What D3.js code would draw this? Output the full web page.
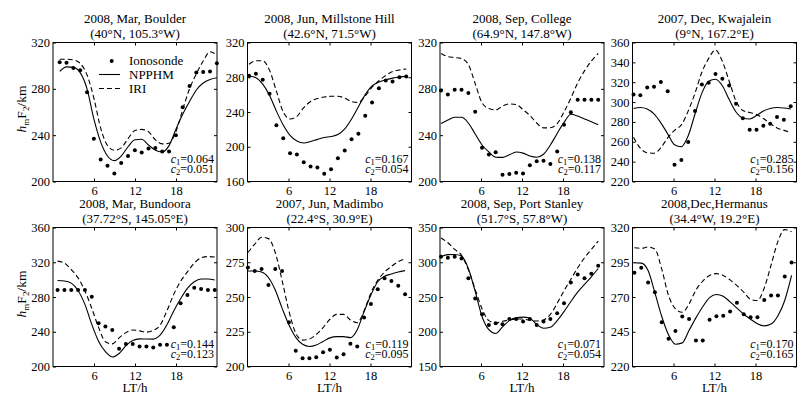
<!DOCTYPE html>
<html>
<head>
<meta charset="utf-8">
<script src="https://cdn.jsdelivr.net/npm/d3@7"></script>
<style>
  body { margin: 0; background: #fff; }
  svg text { font-family: "Liberation Serif", "Times New Roman", serif; fill: #000; }
</style>
</head>
<body>
<script>
var width = 805,
    height = 397;

// station titles
var titles = ["2008, Mar, Boulder", "2008, Jun, Millstone Hill", "2008, Sep, College", "2007, Dec, Kwajalein",
              "2008, Mar, Bundoora", "2007, Jun, Madimbo", "2008, Sep, Port Stanley", "2008,Dec,Hermanus"];
var coords = ["(40°N, 105.3°W)", "(42.6°N, 71.5°W)", "(64.9°N, 147.8°W)", "(9°N, 167.2°E)",
              "(37.72°S, 145.05°E)", "(22.4°S, 30.9°E)", "(51.7°S, 57.8°W)", "(34.4°W, 19.2°E)"];

var yTicks = [
  [200, 240, 280, 320],
  [160, 200, 240, 280, 320],
  [200, 240, 280, 320],
  [220, 240, 260, 280, 300, 320, 340, 360],
  [200, 240, 280, 320, 360],
  [200, 225, 250, 275, 300],
  [150, 200, 250, 300, 350],
  [220, 245, 270, 295, 320]
];
var xTicks = [6, 12, 18];

// LT of the first hourly sample (UT hours shifted by station longitude)
var ltStart = [0.98, 0.23, 0.15, 0.15, 0.67, 0.06, 0.15, 0.28];

var c1 = ["0.064", "0.167", "0.138", "0.285", "0.144", "0.119", "0.071", "0.170"];
var c2 = ["0.051", "0.054", "0.117", "0.156", "0.123", "0.095", "0.054", "0.165"];

// hmF2 (km), 24 hourly values each
var ionoBoulder = [303, 302.5, 298, 296, 277, 237, 219, 213.5, 207, 216, 222, 227, 225, 228.5, 229, 226, 226, 240, 264, 282.5, 294, 294.5, 295, 302];
var npphmBoulder = [295, 299, 298.5, 294, 280, 254, 234, 222, 218, 222, 230, 236, 236.5, 231.5, 227, 225.5, 231, 245, 258, 269, 279, 285, 288, 289.5];
var iriBoulder = [305.5, 305.5, 305, 302, 292, 272, 246, 231, 227, 229, 237, 244, 245, 243, 236, 232.5, 233, 243, 262, 280, 293, 304, 312, 309];

var ionoMillstone = [281.6, 284, 277, 261, 224.8, 209.9, 192.6, 191, 182.2, 177.3, 176, 168.8, 174.2, 186.9, 195.7, 208.7, 214.9, 235.6, 251, 267.4, 276.3, 275, 280, 280.9];
var npphmMillstone = [281.5, 279.5, 272, 259, 241, 225, 213, 206.5, 204.3, 206, 208.5, 210.7, 211.8, 214, 220.5, 232, 246, 260, 270, 274.5, 277, 279, 280.3, 281];
var iriMillstone = [295, 299, 299, 288, 264, 240, 232, 235, 245, 252, 255.5, 257.3, 258.1, 258.2, 256, 252, 251, 258.5, 268.5, 276, 282, 286.5, 288.3, 289.5];

var ionoCollege = [278.6, 275.1, 279.2, 279.2, 276.3, 260.3, 229.1, 223.3, 225.3, 205.8, 206.4, 207.6, 207, 214, 217.5, 218, 215.1, 225.9, 248.9, 259.7, 270.5, 270.5, 270.5, 270.5];
var npphmCollege = [250, 253, 255.5, 255.5, 250.5, 241, 231.5, 225.5, 221, 220.8, 223, 225.5, 224.5, 222, 221, 223.5, 231.5, 241.5, 251, 258, 256.5, 254, 251.5, 249];
var iriCollege = [310.5, 307.8, 307, 306, 301, 284.5, 268, 263, 261.8, 265, 267, 266.5, 262, 257, 250.5, 246.3, 246.4, 250, 260, 272, 285, 295.5, 304, 310.5];

var ionoKwajalein = [307.6, 306.9, 314.7, 315.4, 320.1, 311, 236.9, 241.6, 259.9, 291, 317.7, 319.4, 328.2, 323.5, 316.7, 298.4, 283.6, 272.1, 272.1, 276.1, 278.2, 284.9, 282.2, 295.7];
var npphmKwajalein = [293.5, 294.5, 293, 288, 279, 268, 257, 255, 266, 288, 309, 321, 323, 316.5, 302.5, 290, 284, 283, 286.5, 291, 293.5, 294.5, 294, 293];
var iriKwajalein = [264.5, 253.5, 249, 248.5, 254, 264, 271.5, 277, 291, 309, 330, 344, 352.5, 341, 321, 301, 291.5, 289.5, 287.5, 283.5, 278.5, 274, 271.5, 269.5];

var ionoBundoora = [288, 288, 288, 288, 288, 280.4, 249.8, 245.9, 242.1, 220.3, 226, 226, 223, 223, 221.8, 224.9, 224.9, 245.2, 272.7, 282.3, 290.7, 289.2, 288, 288];
var npphmBundoora = [299, 298.5, 296, 287.5, 271.5, 248.5, 229, 217, 211, 215, 224, 230, 231.8, 231.6, 231.5, 236, 248, 264, 278, 290, 297.5, 300.7, 300.7, 299.5];
var iriBundoora = [321.3, 319, 311.5, 302, 287, 267, 245, 228.5, 226, 233, 239, 242, 241, 239.5, 241.5, 247.5, 264, 283, 298, 309, 319, 325, 326.5, 326];

var ionoMadimbo = [271.3, 268.7, 270.1, 258.6, 270.1, 268.7, 231.8, 211.3, 206, 206, 206.7, 210.3, 212, 206.5, 208.9, 216.3, 214.4, 235.2, 245, 255.5, 263.4, 261.5, 258.1, 251.9];
var npphmMadimbo = [268.7, 268.7, 268, 264, 255, 242, 230, 221, 216, 214.4, 215.5, 218, 220.6, 221.5, 221.5, 220.8, 226.5, 239.5, 251.5, 261, 265, 266.5, 268, 269];
var iriMadimbo = [282, 288, 293, 292, 282, 262, 240, 224, 219, 219.8, 223, 228, 234, 237.5, 237.5, 233.5, 231.5, 240, 253, 262, 268, 272, 275.5, 277.5];

var ionoStanley = [307.9, 306.5, 307.9, 305.5, 276.8, 248, 225.1, 209.8, 212.2, 210.8, 218.4, 218.4, 214.6, 218.4, 209.8, 214.6, 218.4, 226.5, 240.9, 271, 282.5, 276.8, 283.5, 295];
var npphmStanley = [308, 311, 311.2, 309, 291, 258, 222, 203, 197.5, 207, 216, 220, 221, 219.5, 210.5, 205, 206.5, 216, 229, 243.5, 257, 268, 279, 291];
var iriStanley = [335, 328, 318.5, 310, 289, 261, 233, 216, 212.5, 215, 217, 218.3, 218.4, 216.5, 215.5, 217, 225, 241, 259, 275.5, 292, 306.5, 318.5, 330.5];

var ionoHermanus = [287.5, 291.1, 280.5, 273.4, 251.8, 239.9, 245.6, 255.9, 254.2, 238.7, 238.7, 253.7, 256.1, 256.6, 259.5, 265.9, 257.6, 255.4, 255.4, 267.9, 271, 271, 284.8, 294.9];
var npphmHermanus = [294.6, 294.4, 289, 273, 256, 242.7, 236, 237, 246, 255, 263, 269.5, 271.8, 270.5, 266.5, 262, 257.6, 254, 250.8, 249.2, 250.5, 256.5, 267.5, 285.5];
var iriHermanus = [305.4, 305, 306, 304.5, 290, 271, 261.5, 259, 265, 275, 281.5, 285.5, 286.8, 285.5, 282.3, 278.2, 273.5, 268.3, 267.5, 276.5, 293, 310, 318.5, 317];

var iono = [ionoBoulder, ionoMillstone, ionoCollege, ionoKwajalein, ionoBundoora, ionoMadimbo, ionoStanley, ionoHermanus];
var npphm = [npphmBoulder, npphmMillstone, npphmCollege, npphmKwajalein, npphmBundoora, npphmMadimbo, npphmStanley, npphmHermanus];
var iri = [iriBoulder, iriMillstone, iriCollege, iriKwajalein, iriBundoora, iriMadimbo, iriStanley, iriHermanus];

// layout
var panelLeft = [53, 247.5, 440, 632.5],
    panelTop = [42.5, 227.5],
    panelW = 164,
    panelH = 139,
    tick = 3,
    serif = "Liberation Serif, serif";

var svg = d3.select("body").append("svg")
    .attr("width", width)
    .attr("height", height)
    .attr("font-family", serif);

var x = d3.scaleLinear().domain([0, 24]).range([0, panelW]);

titles.forEach(function(title, i) {
  var col = i % 4,
      row = Math.floor(i / 4);

  var y = d3.scaleLinear()
      .domain(d3.extent(yTicks[i]))
      .range([panelH, 0]);

  var g = svg.append("g")
      .attr("transform", "translate(" + panelLeft[col] + "," + panelTop[row] + ")");

  // axes, ticks pointing inward on all four sides
  g.append("g")
      .call(d3.axisLeft(y).tickValues(yTicks[i]).tickSize(-tick).tickPadding(3));
  g.append("g")
      .attr("transform", "translate(" + panelW + ",0)")
      .call(d3.axisRight(y).tickValues(yTicks[i]).tickSize(-tick).tickFormat(""));
  g.append("g")
      .attr("transform", "translate(0," + panelH + ")")
      .call(d3.axisBottom(x).tickValues(xTicks).tickSize(-tick).tickPadding(4.5));
  g.append("g")
      .call(d3.axisTop(x).tickValues(xTicks).tickSize(-tick).tickFormat(""));

  g.selectAll(".domain").remove();
  g.selectAll(".tick line").attr("stroke", "#000");
  g.selectAll("g").attr("font-family", serif).attr("font-size", 12.5);

  g.append("rect")
      .attr("width", panelW)
      .attr("height", panelH)
      .attr("fill", "none")
      .attr("stroke", "#000")
      .attr("stroke-width", 1);

  // title
  g.append("text")
      .attr("x", panelW / 2)
      .attr("y", -19.5)
      .attr("text-anchor", "middle")
      .attr("font-size", 13)
      .text(title);
  g.append("text")
      .attr("x", panelW / 2)
      .attr("y", -4.5)
      .attr("text-anchor", "middle")
      .attr("font-size", 13)
      .text(coords[i]);

  var hours = d3.range(24).map(function(k) { return ltStart[i] + k; });

  var line = d3.line()
      .x(function(d, k) { return x(hours[k]); })
      .y(function(d) { return y(d); })
      .curve(d3.curveMonotoneX);

  g.append("path")
      .datum(iri[i])
      .attr("d", line)
      .attr("fill", "none")
      .attr("stroke", "#000")
      .attr("stroke-width", 1.1)
      .attr("stroke-dasharray", "5,3");

  g.append("path")
      .datum(npphm[i])
      .attr("d", line)
      .attr("fill", "none")
      .attr("stroke", "#000")
      .attr("stroke-width", 1.1);

  g.selectAll("circle")
      .data(iono[i])
    .enter().append("circle")
      .attr("cx", function(d, k) { return x(hours[k]); })
      .attr("cy", function(d) { return y(d); })
      .attr("r", 2)
      .attr("fill", "#000");

  // goodness numbers, two lines in one text block
  var stats = g.append("text")
      .attr("text-anchor", "end")
      .attr("font-size", 12)
      .attr("y", panelH - 18.8);
  [c1[i], c2[i]].forEach(function(v, j) {
    stats.append("tspan").attr("x", panelW - 3).attr("dy", j ? 10.3 : 0)
        .attr("font-style", "italic").text("c");
    stats.append("tspan").attr("font-size", 8.5).attr("dy", 2.2).text(j + 1);
    stats.append("tspan").attr("dy", -2.2).text("=" + v);
  });

  // y label on first column
  if (col === 0) {
    var lab = svg.append("text")
        .attr("transform", "translate(26," + (panelTop[row] + panelH / 2 - 3) + ") rotate(-90)")
        .attr("text-anchor", "middle")
        .attr("font-size", 13.5);
    lab.append("tspan").attr("font-style", "italic").text("h");
    lab.append("tspan").attr("font-size", 9).attr("dy", 3).text("m");
    lab.append("tspan").attr("dy", -3).text("F");
    lab.append("tspan").attr("font-size", 9).attr("dy", 3).text("2");
    lab.append("tspan").attr("dy", -3).text("/km");
  }

  // x label on bottom row
  if (row === 1) {
    g.append("text")
        .attr("x", panelW / 2)
        .attr("y", panelH + 25.5)
        .attr("text-anchor", "middle")
        .attr("font-size", 13)
        .text("LT/h");
  }

  // legend in first panel
  if (i === 0) {
    var leg = g.append("g").attr("font-size", 13);
    leg.append("circle").attr("cx", 58.7).attr("cy", 18.5).attr("r", 2).attr("fill", "#000");
    leg.append("line").attr("x1", 46).attr("x2", 67).attr("y1", 32).attr("y2", 32)
        .attr("stroke", "#000").attr("stroke-width", 1.1);
    leg.append("line").attr("x1", 46).attr("x2", 67).attr("y1", 46).attr("y2", 46)
        .attr("stroke", "#000").attr("stroke-width", 1.1).attr("stroke-dasharray", "5,3");
    ["Ionosonde", "NPPHM", "IRI"].forEach(function(name, j) {
      leg.append("text").attr("x", 76).attr("y", 22.8 + j * 13.8).text(name);
    });
  }
});
</script>
</body>
</html>
